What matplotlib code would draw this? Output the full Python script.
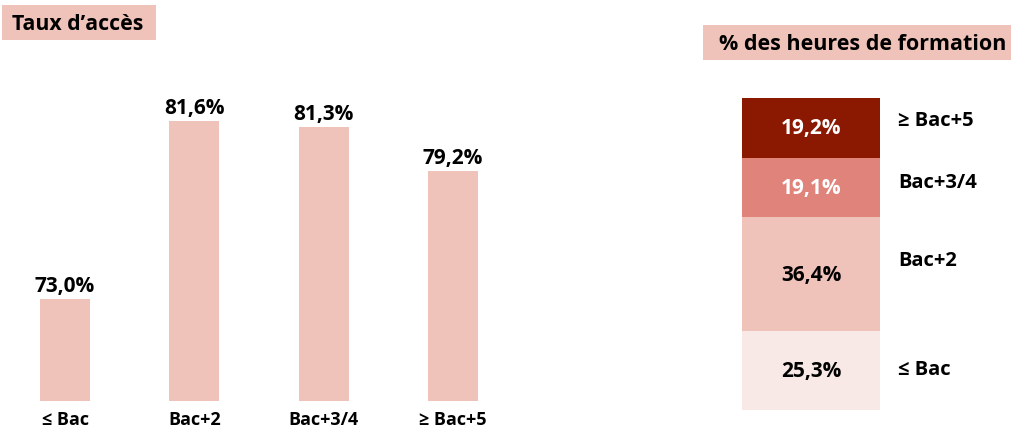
import matplotlib
matplotlib.use("Agg")
import matplotlib.pyplot as plt
from matplotlib.patches import Rectangle

plt.rcParams['font.family'] = ['Open Sans', 'DejaVu Sans']
plt.rcParams['font.weight'] = 'bold'

# Data
categories = ["≤ Bac", "Bac+2", "Bac+3/4", "≥ Bac+5"]
taux_acces = [73.0, 81.6, 81.3, 79.2]
heures_pct = [25.3, 36.4, 19.1, 19.2]
heures_labels = ["≤ Bac", "Bac+2", "Bac+3/4", "≥ Bac+5"]

title_left = "Taux d’accès"
title_right = "% des heures de formation"

bar_color = "#EFC2BA"
stack_colors = ["#F9E9E6", "#EFC2BA", "#E0837A", "#8B1800"]
stack_text_colors = ["black", "black", "white", "white"]

W, H = 1011, 427
fig = plt.figure(figsize=(W / 100, H / 100), dpi=100)

def fx(px):
    return px / W

def fy(py):
    return 1 - py / H

def fmt(v):
    return f"{v:.1f}%".replace(".", ",")

# Left bar chart
px_per_cat = 129.3
left0 = 65 - 0.5 * px_per_cat
ax = fig.add_axes([fx(left0), fy(402), fx(4 * px_per_cat), (402 - 40) / H])
ybase = 68.07
px_per_unit = 20.70
ax.set_xlim(-0.5, 3.5)
ax.set_ylim(ybase, ybase + (402 - 40) / px_per_unit)
x = list(range(len(categories)))
ax.bar(x, taux_acces, width=50 / px_per_cat, bottom=0, color=bar_color, linewidth=0)
for xi, v in zip(x, taux_acces):
    ax.annotate(fmt(v), (xi, v), xytext=(0, 3), textcoords="offset pixels",
                ha="center", va="bottom", fontsize=15, fontweight="bold")
ax.set_xticks(x)
ax.set_xticklabels(categories, fontsize=13, fontweight="bold")
ax.tick_params(axis="x", length=0, pad=6.5)
ax.set_yticks([])
for s in ax.spines.values():
    s.set_visible(False)
ax.patch.set_alpha(0)

# Right stacked bar
ax2 = fig.add_axes([fx(742), fy(411), fx(880 - 742), (411 - 99) / H])
ax2.set_xlim(-0.5, 0.5)
ax2.set_ylim(0, 100)
bottom = 0
label_offsets = [2, 14, 6, 8]
for v, c, tc, lab, off in zip(heures_pct, stack_colors, stack_text_colors, heures_labels, label_offsets):
    ax2.bar(0, v, width=1, bottom=bottom, color=c, linewidth=0)
    ax2.text(0, bottom + v / 2, fmt(v), ha="center", va="center", color=tc,
             fontsize=15, fontweight="bold")
    ax2.annotate(lab, (0.5, bottom + v / 2), xytext=(18, off), textcoords="offset pixels",
                 ha="left", va="center", fontsize=14.5, fontweight="bold", annotation_clip=False)
    bottom += v
ax2.axis("off")

# Title boxes
fig.patches.append(Rectangle((fx(2), fy(41)), fx(154), (41 - 6) / H, transform=fig.transFigure,
                             facecolor=bar_color, edgecolor="none"))
fig.text(fx(12), fy(24.5), title_left, ha="left", va="center", fontsize=15.3, fontweight="bold")
fig.patches.append(Rectangle((fx(703), fy(61)), fx(308), (61 - 26) / H, transform=fig.transFigure,
                             facecolor=bar_color, edgecolor="none"))
fig.text(fx(719), fy(44.5), title_right, ha="left", va="center", fontsize=15.5, fontweight="bold")

fig.savefig("out.png", dpi=100)
